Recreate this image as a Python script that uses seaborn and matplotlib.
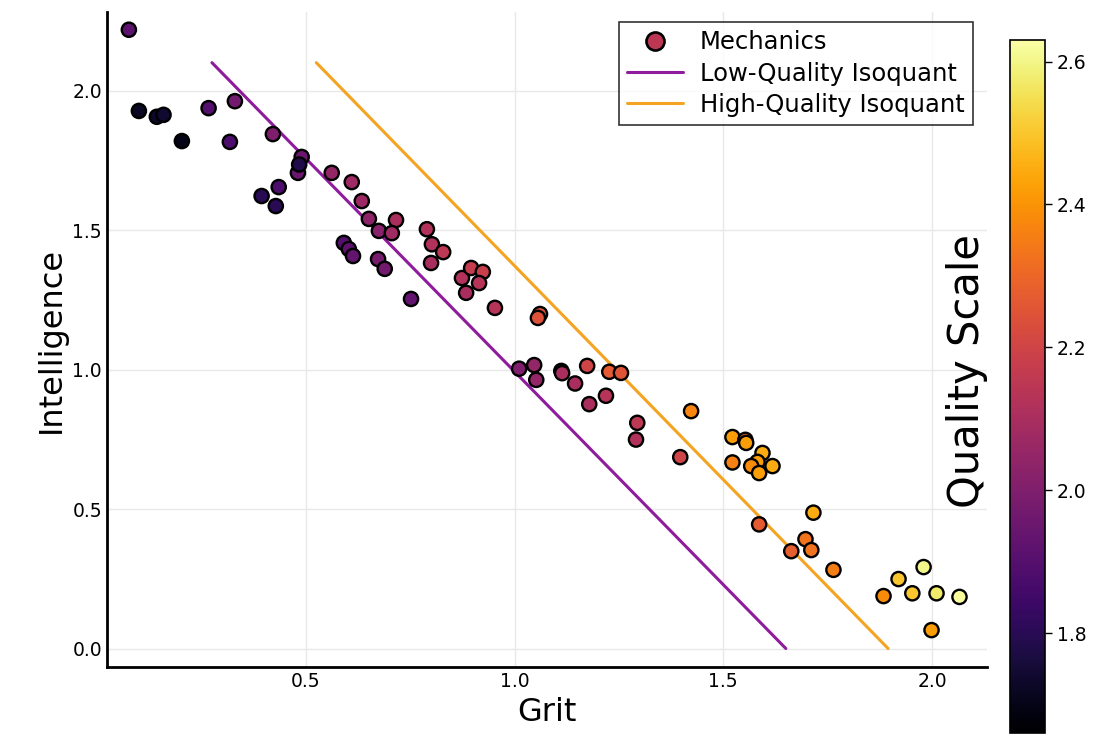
import numpy as np
import pandas as pd
import matplotlib
matplotlib.use("Agg")
import matplotlib.pyplot as plt
from matplotlib.lines import Line2D
import seaborn as sns

# scatter data
grit = [0.076, 0.100, 0.143, 0.159, 0.203, 0.267, 0.330, 0.318, 0.394, 0.421,
        0.435, 0.428, 0.481, 0.490, 0.484, 0.562, 0.610, 0.634, 0.651, 0.675,
        0.716, 0.706, 0.591, 0.603, 0.613, 0.673, 0.689, 0.752, 0.790, 0.802,
        0.829, 0.800, 0.874, 0.896, 0.924, 0.915, 0.884, 0.953, 1.061, 1.056,
        1.011, 1.047, 1.052, 1.112, 1.114, 1.145, 1.174, 1.227, 1.255, 1.219,
        1.179, 1.423, 1.294, 1.291, 1.397, 1.522, 1.553, 1.555, 1.522, 1.594,
        1.582, 1.567, 1.586, 1.618, 1.716, 1.586, 1.697, 1.711, 1.663, 1.764,
        1.884, 1.920, 1.953, 1.980, 2.011, 2.066, 1.999]
intelligence = [2.218, 1.927, 1.906, 1.913, 1.819, 1.937, 1.962, 1.816, 1.622, 1.844,
                1.654, 1.586, 1.705, 1.762, 1.735, 1.705, 1.672, 1.604, 1.540, 1.497,
                1.536, 1.489, 1.454, 1.432, 1.407, 1.396, 1.361, 1.253, 1.503, 1.449,
                1.421, 1.382, 1.328, 1.364, 1.350, 1.310, 1.275, 1.221, 1.199, 1.185,
                1.003, 1.016, 0.963, 0.995, 0.987, 0.950, 1.013, 0.992, 0.988, 0.906,
                0.876, 0.851, 0.809, 0.749, 0.686, 0.758, 0.748, 0.737, 0.667, 0.701,
                0.669, 0.654, 0.629, 0.654, 0.487, 0.445, 0.392, 0.353, 0.349, 0.282,
                0.188, 0.249, 0.198, 0.292, 0.198, 0.185, 0.066]
quality = [1.92, 1.72, 1.73, 1.74, 1.70, 1.90, 1.97, 1.88, 1.80, 2.00,
           1.88, 1.80, 1.95, 1.95, 1.78, 2.05, 2.08, 2.07, 2.03, 2.02,
           2.10, 2.08, 1.90, 1.92, 1.93, 1.98, 1.97, 1.93, 2.12, 2.12,
           2.15, 2.10, 2.12, 2.17, 2.18, 2.13, 2.10, 2.13, 2.25, 2.24,
           2.00, 2.05, 2.05, 1.90, 2.10, 2.10, 2.20, 2.27, 2.25, 2.13,
           2.10, 2.37, 2.15, 2.12, 2.20, 2.42, 2.30, 2.42, 2.36, 2.45,
           2.42, 2.38, 2.42, 2.45, 2.45, 2.27, 2.33, 2.33, 2.28, 2.35,
           2.38, 2.50, 2.50, 2.60, 2.57, 2.62, 2.42]

# isoquant end points
low_x = [0.275, 1.650]
low_y = [2.10, 0.0]
high_x = [0.525, 1.895]
high_y = [2.10, 0.0]

q_min, q_max = 1.66, 2.63
cbar_ticks = [1.8, 2.0, 2.2, 2.4, 2.6]

df = pd.DataFrame({"Grit": grit, "Intelligence": intelligence, "Quality": quality})

sns.set_theme(style="white")
plt.rcParams['font.family'] = ['DejaVu Sans']
plt.rcParams.update({"text.color": "black", "axes.labelcolor": "black",
                     "xtick.color": "black", "ytick.color": "black"})

fig = plt.figure(figsize=(11.12, 7.43), dpi=100)
ax = fig.add_axes([0.096, 0.102, 0.792, 0.882])
cax = fig.add_axes([0.908, 0.013, 0.032, 0.933])

norm = plt.Normalize(q_min, q_max)
cmap = plt.get_cmap("inferno")

purple = "#8E1C9C"
orange = "#F4A422"

sns.lineplot(x=low_x, y=low_y, ax=ax, color=purple, linewidth=2.2, sort=False, zorder=2)
sns.lineplot(x=high_x, y=high_y, ax=ax, color=orange, linewidth=2.2, sort=False, zorder=2)
sns.scatterplot(data=df, x="Grit", y="Intelligence", hue="Quality", palette="inferno",
                hue_norm=norm, s=105, edgecolor="black", linewidth=1.7,
                legend=False, ax=ax, zorder=3)

ax.set_xlim(0.023, 2.133)
ax.set_ylim(-0.067, 2.282)
ax.set_xticks([0.5, 1.0, 1.5, 2.0])
ax.set_yticks([0.0, 0.5, 1.0, 1.5, 2.0])
ax.grid(True, color="#e8e8e8", linewidth=1.0)
ax.set_axisbelow(True)
for side in ["top", "right"]:
    ax.spines[side].set_visible(False)
for side in ["left", "bottom"]:
    ax.spines[side].set_linewidth(2.0)
    ax.spines[side].set_color("black")
ax.tick_params(direction="in", length=6, width=1.2, labelsize=13.5)
ax.set_xlabel("Grit", fontsize=23)
ax.set_ylabel("Intelligence", fontsize=23)

handles = [
    Line2D([], [], marker="o", linestyle="none", markersize=13,
           markerfacecolor=cmap(0.5), markeredgecolor="black", markeredgewidth=1.9),
    Line2D([], [], color=purple, linewidth=2.2),
    Line2D([], [], color=orange, linewidth=2.2),
]
labels = ["Mechanics", "Low-Quality Isoquant", "High-Quality Isoquant"]
leg = ax.legend(handles, labels, loc="upper right", bbox_to_anchor=(0.984, 0.985),
                borderaxespad=0, fontsize=17.5, frameon=True, fancybox=False,
                edgecolor="black", handlelength=2.3, handletextpad=0.7,
                labelspacing=0.3, borderpad=0.35)
leg.get_frame().set_linewidth(1.2)

sm = plt.cm.ScalarMappable(norm=norm, cmap=cmap)
cb = fig.colorbar(sm, cax=cax, ticks=cbar_ticks)
cb.outline.set_linewidth(1.2)
cb.outline.set_edgecolor("black")
cax.tick_params(labelsize=13.5, length=5, width=1.0)
cax.set_yticklabels([f"{t:.1f}" for t in cbar_ticks])

fig.text(0.870, 0.50, "Quality Scale", rotation=90, ha="center", va="center", fontsize=30)

fig.savefig("out.png", dpi=100)
